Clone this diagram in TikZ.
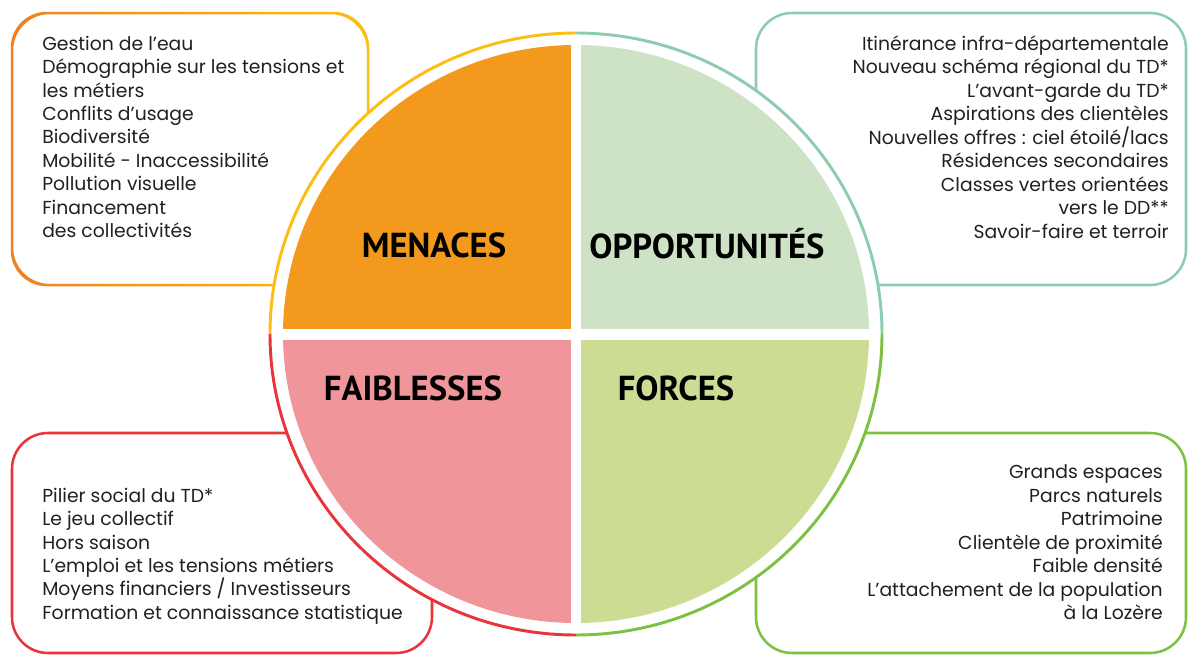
\documentclass[tikz,border=0pt]{standalone}
\usepackage{fontspec}
\setmainfont{Poppins}
\newfontfamily\headfont{PT Sans}
\usetikzlibrary{calc}
\definecolor{menacesfill}{RGB}{243,154,30}
\definecolor{opportfill}{RGB}{206,227,197}
\definecolor{faiblesfill}{RGB}{240,150,154}
\definecolor{forcesfill}{RGB}{204,221,147}
\definecolor{orangeline}{RGB}{239,128,32}
\definecolor{goldline}{RGB}{252,190,20}
\definecolor{tealline}{RGB}{141,204,178}
\definecolor{redline}{RGB}{232,52,58}
\definecolor{greenline}{RGB}{124,193,66}
\definecolor{textgray}{RGB}{35,31,32}
\def\ringarc[#1](#2)(#3:#4){\draw[#1] ($(#2)+({306*cos(#3)},{301*sin(#3)})$) arc[start angle=#3, end angle=#4, x radius=306, y radius=301];}

\begin{document}
\begin{tikzpicture}[x=0.75pt, y=-0.75pt,
    boxline/.style={line width=1.9pt, rounded corners=27pt},
    ringline/.style={line width=2.2pt},
    heading/.style={anchor=base, inner sep=0pt, text=black, font=\headfont\bfseries\fontsize{26}{30}\selectfont},
    listtext/.style={inner sep=0pt, text=textgray, font=\fontsize{14.1}{17.6}\selectfont}]
		%%%%% START %%%%%
		\useasboundingbox (0,0) rectangle (1189,657);
		
		\shade[left color=orangeline, right color=goldline, even odd rule, rounded corners=27pt]
			(10.75,11.75) rectangle (369.25,286.25) (13.25,14.25) rectangle (366.75,283.75);
		\draw[boxline, tealline] (756,13) rectangle (1186,285);
		\draw[boxline, redline] (12,433) rectangle (432,653);
		\draw[boxline, greenline] (756,433) rectangle (1186,653);
		
		\fill[white] (576,334) ellipse [x radius=306, y radius=301];
		\ringarc[ringline, goldline](576,334)(180:270)
		\ringarc[ringline, tealline](576,334)(270:360)
		\ringarc[ringline, greenline](576,334)(0:90)
		\ringarc[ringline, redline](576,334)(90:180)
		
		\begin{scope}
			\clip (576,334) ellipse [x radius=293, y radius=289];
			\fill[menacesfill] (270,40) rectangle (570.5,328.5);
			\fill[opportfill] (581,40) rectangle (880,328.5);
			\fill[faiblesfill] (270,340) rectangle (570.5,630);
			\fill[forcesfill] (581,340) rectangle (880,630);
		\end{scope}
		
		\node[heading] (menaces) at (434,257) {MENACES};
		\node[heading] (opport) at (707,258) {OPPORTUNITÉS};
		\node[heading] (faibles) at (413,400) {FAIBLESSES};
		\node[heading] (forces) at (676,400) {FORCES};
		
		\node[listtext, anchor=north west, align=left] (menacestxt) at (42,35.5)
			{Gestion de l’eau\\Démographie sur les tensions et\\les métiers\\Conflits d’usage\\Biodiversité\\Mobilité - Inaccessibilité\\Pollution visuelle\\Financement\\des collectivités};
		\node[listtext, anchor=north east, align=right] (opporttxt) at (1169,35.5)
			{Itinérance infra-départementale\\Nouveau schéma régional du TD*\\L’avant-garde du TD*\\Aspirations des clientèles\\Nouvelles offres : ciel étoilé/lacs\\Résidences secondaires\\Classes vertes orientées\\vers le DD**\\Savoir-faire et terroir};
		\node[listtext, anchor=north west, align=left] (faiblestxt) at (42,487.5)
			{Pilier social du TD*\\Le jeu collectif\\Hors saison\\L’emploi et les tensions métiers\\Moyens financiers / Investisseurs\\Formation et connaissance statistique};
		\node[listtext, anchor=north east, align=right] (forcestxt) at (1163,464.5)
			{Grands espaces\\Parcs naturels\\Patrimoine\\Clientèle de proximité\\Faible densité\\L’attachement de la population\\à la Lozère};
		%%%%% END %%%%%
\end{tikzpicture}
\end{document}
